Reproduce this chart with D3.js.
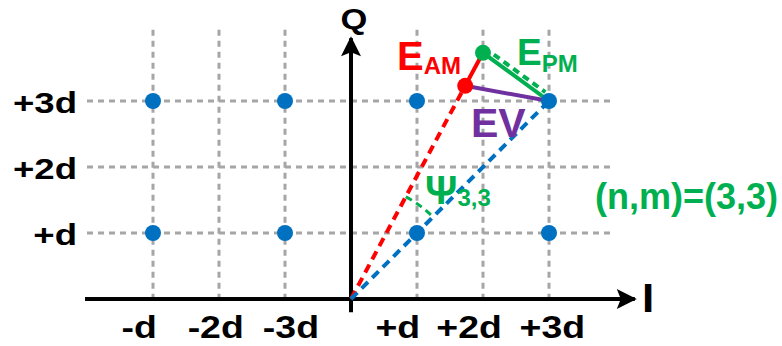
<!DOCTYPE html>
<html>
<head>
<meta charset="utf-8">
<script src="https://cdn.jsdelivr.net/npm/d3@7"></script>
<style>
body { margin: 0; background: #fff; }
svg { display: block; }
text { font-family: "Liberation Sans", Arial, sans-serif; font-weight: bold; }
</style>
</head>
<body>
<svg id="mainsvg" width="782" height="346"></svg>
<script>
// grid positions in units of d
var gridI = [-3, -2, -1, 1, 2, 3];
var gridQ = [1, 2, 3];
var iLabels = ['-d', '-2d', '-3d', '+d', '+2d', '+3d'];
var iLabelAt = [-3.21, -2.05, -0.91, 0.71, 1.79, 3.05]; // where each I label sits (units of d)
var qLabels = ['+d', '+2d', '+3d'];
// constellation points (I, Q)
var points = [[-3, 3], [-1, 3], [1, 3], [3, 3], [-3, 1], [-1, 1], [1, 1], [3, 1]];
var ideal = [3, 3];          // reference symbol
var amPoint = [1.73, 3.23];  // after amplitude error
var pmPoint = [2.0, 3.73];   // after phase error

var blue = '#0070C0', red = '#FF0000', green = '#00B050', purple = '#7030A0', gray = '#A6A6A6';

var svg = d3.select('#mainsvg');
var x = d3.scaleLinear().domain([-3, 3]).range([153, 549]);
var y = d3.scaleLinear().domain([0, 3]).range([299, 101]);

// wide bold label helper (reference text is horizontally stretched)
function label(px, py, str, size, sx, anchor, color) {
	return svg.append('text')
		.attr('transform', 'translate(' + px + ',' + py + ') scale(' + sx + ',1)')
		.attr('text-anchor', anchor).attr('font-size', size)
		.attr('fill', color || '#000').text(str);
}

// grid
var grid = svg.append('g');
grid.selectAll('.vg').data(gridI).enter().append('line')
	.attr('x1', function(d) {return x(d);}).attr('x2', function(d) {return x(d);})
	.attr('y1', y(4.08)).attr('y2', y(0))
	.attr('stroke', gray).attr('stroke-width', 3).attr('stroke-dasharray', '6,5');
grid.selectAll('.hg').data(gridQ).enter().append('line')
	.attr('x1', x(-4)).attr('x2', x(4))
	.attr('y1', function(d) {return y(d);}).attr('y2', function(d) {return y(d);})
	.attr('stroke', gray).attr('stroke-width', 3).attr('stroke-dasharray', '6,5');

// axes
svg.append('defs').append('marker')
	.attr('id', 'arrow').attr('viewBox', '0 0 10 10').attr('refX', 9).attr('refY', 5)
	.attr('markerWidth', 5.5).attr('markerHeight', 5).attr('markerUnits', 'strokeWidth')
	.attr('orient', 'auto')
	.append('path').attr('d', 'M0,0 L10,5 L0,10 L2,5 z').attr('fill', '#000');
svg.append('line').attr('x1', x(-4.03)).attr('x2', x(4.3)).attr('y1', y(0)).attr('y2', y(0))
	.attr('stroke', '#000').attr('stroke-width', 4).attr('marker-end', 'url(#arrow)');
svg.append('line').attr('x1', x(0)).attr('x2', x(0)).attr('y1', y(-0.2)).attr('y2', y(3.95))
	.attr('stroke', '#000').attr('stroke-width', 4).attr('marker-end', 'url(#arrow)');

// vectors from origin
svg.append('line').attr('x1', x(0)).attr('y1', y(0)).attr('x2', x(amPoint[0])).attr('y2', y(amPoint[1]))
	.attr('stroke', red).attr('stroke-width', 4).attr('stroke-dasharray', '9,6');
svg.append('line').attr('x1', x(0)).attr('y1', y(0)).attr('x2', x(ideal[0])).attr('y2', y(ideal[1]))
	.attr('stroke', blue).attr('stroke-width', 4).attr('stroke-dasharray', '9,6');

// angle arc psi between the two vectors
var r = 116;
var a1 = Math.atan2(y(0) - y(amPoint[1]), x(amPoint[0]) - x(0));
var a2 = Math.atan2(y(0) - y(ideal[1]), x(ideal[0]) - x(0));
var arcPts = d3.range(0, 1.0001, 0.05).map(function(t) {
	var a = a1 + (a2 - a1) * t;
	return [x(0) + r * Math.cos(a), y(0) - r * Math.sin(a)];
});
svg.append('path').attr('d', d3.line()(arcPts))
	.attr('fill', 'none').attr('stroke', green).attr('stroke-width', 3).attr('stroke-dasharray', '7,5');

// error vectors
svg.append('line').attr('x1', x(amPoint[0])).attr('y1', y(amPoint[1])).attr('x2', x(pmPoint[0])).attr('y2', y(pmPoint[1]))
	.attr('stroke', red).attr('stroke-width', 4);
svg.append('line').attr('x1', x(pmPoint[0])).attr('y1', y(pmPoint[1])).attr('x2', x(ideal[0])).attr('y2', y(ideal[1]))
	.attr('stroke', green).attr('stroke-width', 4);
// dashed parallel to E_PM
var dx = x(ideal[0]) - x(pmPoint[0]), dy = y(ideal[1]) - y(pmPoint[1]);
var len = Math.sqrt(dx * dx + dy * dy);
var nx = dy / len * 5, ny = -dx / len * 5;
svg.append('line')
	.attr('x1', x(pmPoint[0]) + dx * 0.12 + nx).attr('y1', y(pmPoint[1]) + dy * 0.12 + ny)
	.attr('x2', x(ideal[0]) - dx * 0.1 + nx).attr('y2', y(ideal[1]) - dy * 0.1 + ny)
	.attr('stroke', green).attr('stroke-width', 4).attr('stroke-dasharray', '7,5');
svg.append('line').attr('x1', x(amPoint[0])).attr('y1', y(amPoint[1])).attr('x2', x(ideal[0])).attr('y2', y(ideal[1]))
	.attr('stroke', purple).attr('stroke-width', 4);

// points
svg.selectAll('.pt').data(points).enter().append('circle')
	.attr('cx', function(d) {return x(d[0]);}).attr('cy', function(d) {return y(d[1]);})
	.attr('r', 8).attr('fill', blue);
svg.append('circle').attr('cx', x(amPoint[0])).attr('cy', y(amPoint[1])).attr('r', 8).attr('fill', red);
svg.append('circle').attr('cx', x(pmPoint[0])).attr('cy', y(pmPoint[1])).attr('r', 8).attr('fill', green);

// tick labels
iLabels.forEach(function(t, i) {
	label(x(iLabelAt[i]), 338, t, 32, 1.17, 'middle');
});
qLabels.forEach(function(t, i) {
	label(77, y(gridQ[i]) + 12, t, 30, 1.22, 'end');
});

label(354, 29, 'Q', 30, 1.15, 'middle');
label(648, 312, 'I', 40, 1.1, 'middle');

// annotations
var eam = svg.append('text').attr('x', 397).attr('y', 70).attr('fill', red);
eam.append('tspan').attr('font-size', 40).text('E');
eam.append('tspan').attr('font-size', 24).attr('dy', 4).text('AM');
var epm = svg.append('text').attr('x', 517).attr('y', 65).attr('fill', green);
epm.append('tspan').attr('font-size', 37).text('E');
epm.append('tspan').attr('font-size', 24).attr('dy', 7).text('PM');
svg.append('text').attr('x', 471).attr('y', 137).attr('fill', purple).attr('font-size', 41).text('EV');
var psi = svg.append('text').attr('x', 425).attr('y', 204).attr('fill', green);
psi.append('tspan').attr('font-size', 40).text('\u03A8');
psi.append('tspan').attr('font-size', 24).attr('dy', 2).text('3,3');
svg.append('text').attr('x', 778).attr('y', 209).attr('text-anchor', 'end').attr('fill', green)
	.attr('font-size', 36).text('(n,m)=(3,3)');
</script>
</body>
</html>
